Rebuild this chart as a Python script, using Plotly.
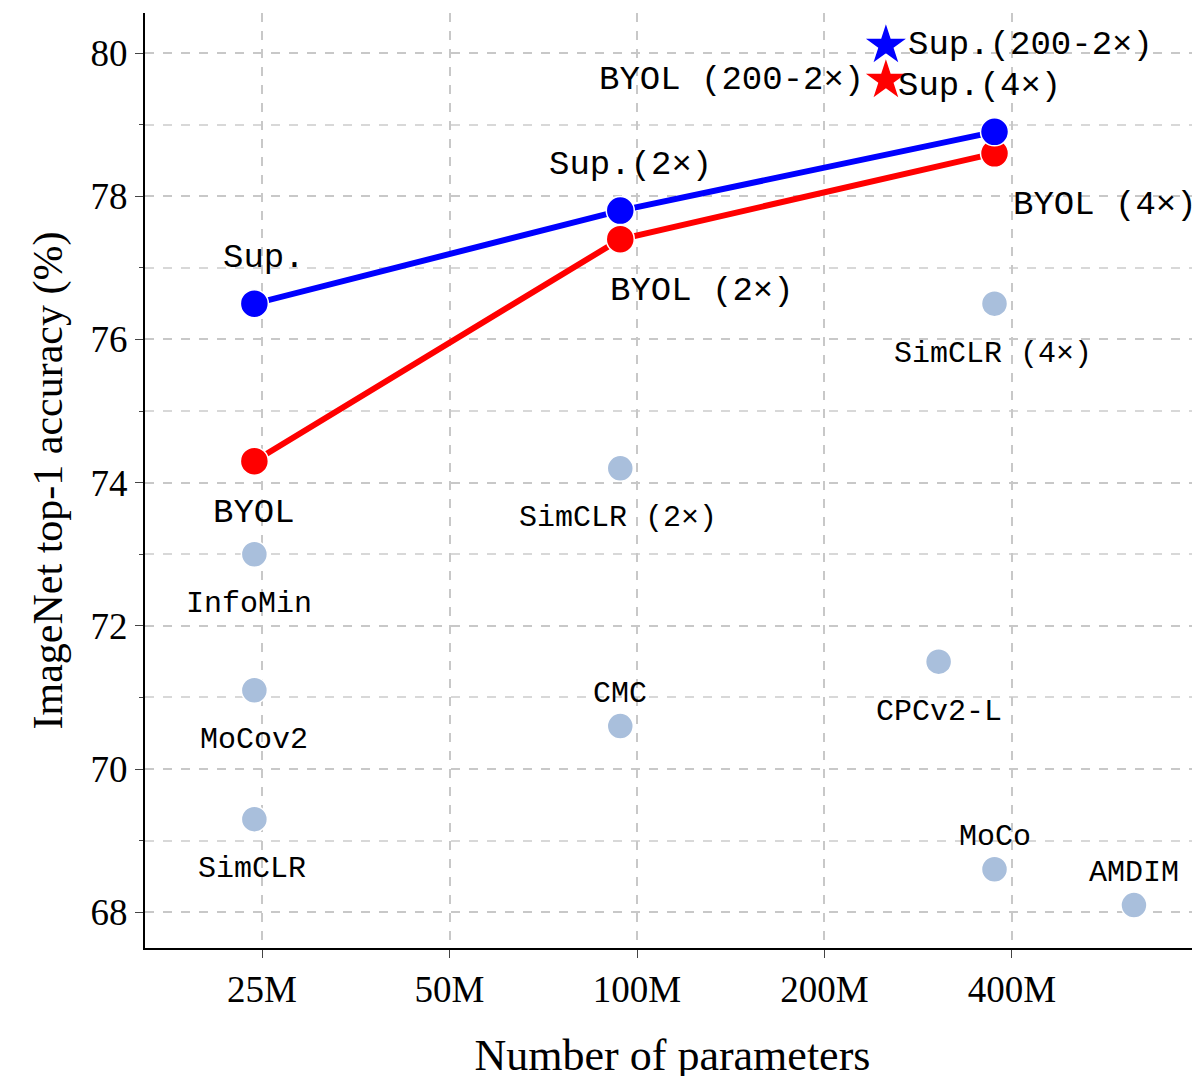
import math
import plotly.graph_objects as go

sup_x = [24.3e6, 94e6, 375e6]
sup_y = [76.5, 77.8, 78.9]
sup_labels = ["Sup.", "Sup.(2×)", "Sup.(4×)"]
byol_x = [24.3e6, 94e6, 375e6]
byol_y = [74.3, 77.4, 78.6]
byol_labels = ["BYOL", "BYOL (2×)", "BYOL (4×)"]
oth_x = [375e6, 94e6, 24.3e6, 24.3e6, 24.3e6, 94e6, 305e6, 375e6, 628e6]
oth_y = [76.5, 74.2, 73.0, 71.1, 69.3, 70.6, 71.5, 68.6, 68.1]
oth_labels = ["SimCLR (4×)", "SimCLR (2×)", "InfoMin", "MoCov2", "SimCLR", "CMC", "CPCv2-L", "MoCo", "AMDIM"]
oth_pos = ["below", "below", "below", "below", "below", "above", "below", "above", "above"]
star_x = [251e6, 251e6]
star_y = [80.11, 79.62]
star_labels = ["Sup.(200-2×)", "BYOL (200-2×)"]

mono = "Liberation Mono"
fig = go.Figure()
fig.add_trace(go.Scatter(x=oth_x, y=oth_y, mode="markers",
    marker=dict(size=26, color="#a9bfdc", line=dict(color="white", width=1.5))))
fig.add_trace(go.Scatter(x=byol_x, y=byol_y, mode="lines+markers", line=dict(color="red", width=6),
    marker=dict(size=28, color="red", line=dict(color="white", width=1.5))))
fig.add_trace(go.Scatter(x=sup_x, y=sup_y, mode="lines+markers", line=dict(color="blue", width=6),
    marker=dict(size=28, color="blue", line=dict(color="white", width=1.5))))
fig.add_trace(go.Scatter(x=star_x, y=star_y, mode="markers",
    marker=dict(symbol="star", size=30, color=["blue", "red"])))

L = math.log10
ann = []
for x, y, t, dx in zip(sup_x, sup_y, sup_labels, [10, 10, -15]):
    ann.append(dict(x=L(x), y=y, text=t, yshift=46, xshift=dx, font=dict(size=34)))
for x, y, t, dx in zip(byol_x, byol_y, byol_labels, [0, 82, 110]):
    ann.append(dict(x=L(x), y=y, text=t, yshift=-52, xshift=dx, font=dict(size=34)))
for x, y, t, p in zip(oth_x, oth_y, oth_labels, oth_pos):
    dx = {"SimCLR (4×)": -2, "SimCLR (2×)": -2, "InfoMin": -5, "MoCov2": 0, "SimCLR": -2, "CMC": 0, "CPCv2-L": 0, "MoCo": 0, "AMDIM": 0}[t]
    ann.append(dict(x=L(x), y=y, text=t, yshift=-50 if p == "below" else 32, xshift=dx, font=dict(size=30)))
ann.append(dict(x=L(star_x[0]), y=star_y[0], text=star_labels[0], xanchor="left", xshift=20, font=dict(size=34)))
ann.append(dict(x=L(star_x[1]), y=star_y[1], text=star_labels[1], xanchor="right", xshift=-20, font=dict(size=34)))
for a in ann:
    a.update(showarrow=False, xref="x", yref="y")
    a["font"].update(family=mono, color="black")

grid = dict(showgrid=True, gridcolor="#c8c8c8", griddash="dash", gridwidth=1.5)
fig.update_layout(
    width=1200, height=1076, plot_bgcolor="white", paper_bgcolor="white",
    margin=dict(l=137, r=8, t=5, b=136, autoexpand=False), showlegend=False, annotations=ann,
    font=dict(family="Liberation Serif", color="black"),
    xaxis=dict(type="log", range=[7.21, 8.904], tickvals=[25e6, 50e6, 100e6, 200e6, 400e6],
               ticktext=["25M", "50M", "100M", "200M", "400M"], tickfont=dict(size=37),
               title=dict(text="Number of parameters", font=dict(size=44), standoff=30),
               showline=True, linecolor="black", linewidth=2, ticks="outside", ticklen=8, zeroline=False,
               automargin=False, **grid),
    yaxis=dict(range=[67.5, 80.56], dtick=2, tickfont=dict(size=37),
               title=dict(text="ImageNet top-1 accuracy (%)", font=dict(size=42), standoff=15),
               showline=True, linecolor="black", linewidth=2, ticks="outside", ticklen=8, zeroline=False,
               minor=dict(dtick=1, showgrid=True, gridcolor="#d8d8d8", griddash="dash", ticks="outside", ticklen=4),
               automargin=False, **grid),
)
fig.write_html("out.html")
